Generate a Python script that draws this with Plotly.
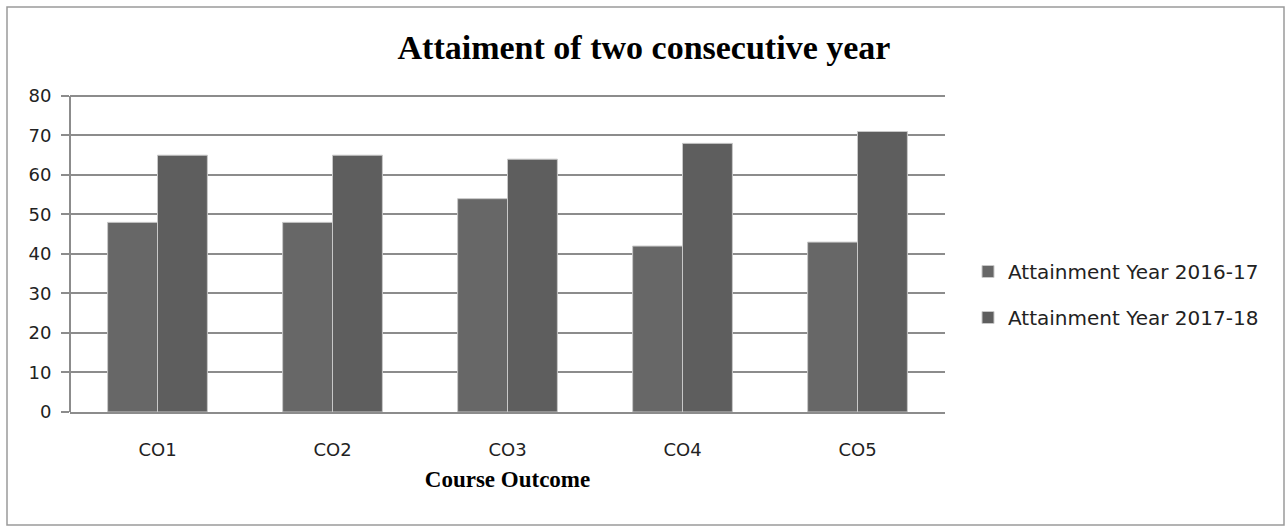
import plotly.graph_objects as go

categories = ["CO1", "CO2", "CO3", "CO4", "CO5"]
year_2016_17 = [48, 48, 54, 42, 43]
year_2017_18 = [65, 65, 64, 68, 71]
series_names = ["Attainment Year 2016-17", "Attainment Year 2017-18"]
y_ticks = [0, 10, 20, 30, 40, 50, 60, 70, 80]

W, H = 1285, 526
L, R, T, B = 70, 340, 92, 114
pw, ph = W - L - R, H - T - B

def px(x):
    return (x - L) / pw

def py(y):
    return (H - B - y) / ph

fig = go.Figure()
fig.add_trace(go.Bar(x=categories, y=year_2016_17, name=series_names[0],
                     legendgroup="a",
                     marker=dict(color="#676767", line=dict(color="#c8c8c8", width=1))))
fig.add_trace(go.Bar(x=categories, y=year_2017_18, name=series_names[1],
                     legendgroup="b",
                     marker=dict(color="#5e5e5e", line=dict(color="#c8c8c8", width=1))))

fig.update_layout(
    width=W, height=H,
    margin=dict(l=L, r=R, t=T, b=B),
    paper_bgcolor="white", plot_bgcolor="white",
    barmode="group", bargap=0.43, bargroupgap=0,
    title=dict(text="<b>Attaiment of two consecutive year</b>",
               font=dict(family="Liberation Serif", size=34, color="black"),
               x=px(644), xanchor="center", xref="paper",
               y=1 - 47 / H, yanchor="middle"),
    legend=dict(x=px(968), y=py(252), xanchor="left", yanchor="top",
                font=dict(family="DejaVu Sans", size=20, color="#222222"),
                tracegroupgap=17, itemwidth=30, bgcolor="rgba(0,0,0,0)"),
    xaxis=dict(showline=True, linecolor="#8c8c8c", linewidth=2,
               tickfont=dict(family="DejaVu Sans", size=18, color="#222222"),
               ticks="", ticklabelstandoff=20,
               title=dict(text="<b>Course Outcome</b>",
                          font=dict(family="Liberation Serif", size=23, color="black"),
                          standoff=12)),
    yaxis=dict(range=[0, 81], tickvals=y_ticks, showgrid=True, gridcolor="#8c8c8c",
               gridwidth=2, showline=False,
               ticks="outside", ticklen=8, tickcolor="#8c8c8c", tickwidth=2,
               tickfont=dict(family="DejaVu Sans", size=18, color="#222222"),
               zeroline=False, ticklabelstandoff=6),
    shapes=[dict(type="rect", xref="paper", yref="paper",
                 x0=px(7), x1=px(1284), y0=py(525), y1=py(7),
                 line=dict(color="#9a9a9a", width=1.5), layer="below"),
            dict(type="line", xref="paper", yref="y",
                 x0=0, x1=0, y0=0, y1=y_ticks[-1],
                 line=dict(color="#8c8c8c", width=2))],
)

fig.write_html("out.html")
